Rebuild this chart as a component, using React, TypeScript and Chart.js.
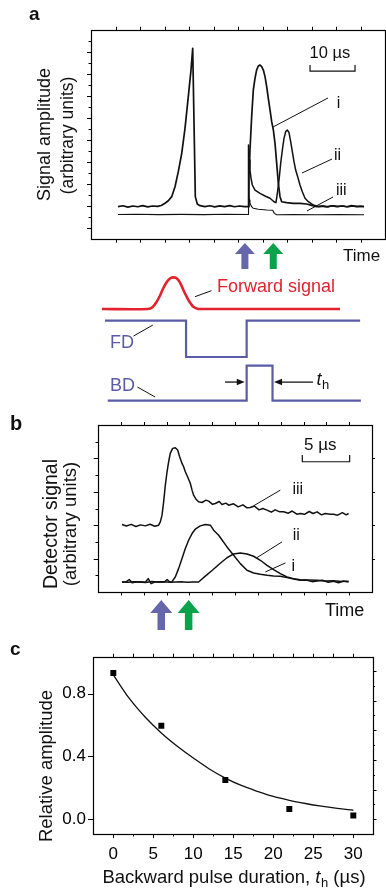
import React, { useEffect, useRef } from "react";
import { Chart, registerables } from "chart.js";

Chart.register(...registerables);

const FONT = '"Liberation Sans", Arial, Helvetica, sans-serif';
const INK = "#111";
const BLUE = "#5b5ca8";
const ARROW_BLUE = "#6566ac";
const GREEN = "#0aa24a";
const RED = "#e3222f";

// ---------------- Panel a : signal amplitude (arb.) vs time (µs) ----------------
const A_TIME_MAX = 65.33;
const A_AMP_MAX = 19;
const A_TRACE_I: [number, number][] = [
  [6.0, 2.95], [7.1, 3.02], [8.2, 2.9], [9.3, 3.0], [10.4, 2.93], [11.5, 3.03], [12.6, 2.92], [13.7, 3.0],
  [14.8, 2.96], [15.6, 3.05], [16.44, 3.25], [17.18, 3.48], [17.93, 3.85], [18.67, 4.75], [19.4, 6.12],
  [20.16, 7.79], [20.89, 10.06], [21.62, 12.94], [22.22, 15.36], [22.6, 17.34], [22.96, 9.0], [23.18, 3.85],
  [23.62, 3.18], [24.22, 3.03], [25.3, 2.95], [26.4, 3.02], [27.5, 2.92], [28.6, 3.01], [29.7, 2.94],
  [30.8, 3.04], [31.9, 2.93], [33.0, 3.0], [34.1, 2.95], [34.96, 2.94], [35.1, 5.66], [35.33, 8.09],
  [35.7, 11.12], [36.07, 13.55], [36.44, 14.6], [36.8, 15.36], [37.18, 15.73], [37.56, 15.82], [37.93, 15.67],
  [38.3, 15.36], [38.67, 14.76], [39.04, 13.85], [39.4, 12.79], [39.78, 11.73], [40.15, 10.67], [40.52, 9.91],
  [40.89, 8.7], [41.26, 6.88], [41.63, 5.06], [42.0, 3.85], [42.37, 3.39], [43.48, 3.3], [44.96, 3.24],
  [46.44, 3.24], [47.93, 3.18], [49.04, 3.06], [50.15, 2.94], [51.3, 2.99], [52.4, 2.92], [53.5, 3.02],
  [54.6, 2.94], [55.7, 3.0], [56.8, 2.93], [57.9, 3.03], [59.0, 2.95], [60.1, 2.98], [60.67, 2.94],
];
const A_TRACE_II: [number, number][] = [
  [34.96, 2.94], [35.0, 8.55], [35.18, 7.18], [35.33, 6.27], [35.56, 5.52], [35.85, 4.91], [36.44, 4.45],
  [37.56, 4.15], [38.67, 3.91], [39.78, 3.7], [40.67, 3.39], [41.1, 3.3], [41.41, 4.15], [41.78, 5.36],
  [42.15, 6.88], [42.52, 8.09], [42.89, 9.15], [43.26, 9.76], [43.63, 9.91], [44.0, 9.67], [44.37, 8.85],
  [44.74, 7.94], [45.11, 7.03], [45.48, 6.27], [45.93, 5.66], [46.44, 4.91], [46.96, 4.3], [47.56, 3.7],
  [48.3, 3.39], [49.41, 3.09], [50.52, 2.94], [51.6, 3.0], [52.7, 2.93], [53.8, 3.02], [54.9, 2.95],
  [56.0, 3.01], [57.1, 2.92], [58.2, 3.0], [59.3, 2.96], [60.67, 2.95],
];
const A_TRACE_III: [number, number][] = [
  [6.0, 2.23], [10, 2.25], [15, 2.22], [20, 2.24], [25, 2.22], [30, 2.25], [34.96, 2.23], [35.0, 3.85],
  [35.18, 3.55], [35.33, 3.24], [35.7, 2.94], [36.07, 2.79], [37.18, 2.7], [39.04, 2.64], [40.37, 2.61],
  [40.74, 2.33], [41.26, 2.2], [45, 2.22], [50, 2.2], [55, 2.22], [60.67, 2.21],
];
const A_LABELS = ["i", "ii", "iii"];
const A_LABEL_AT: [number, number][] = [[55.0, 12.27], [54.8, 7.55], [55.6, 4.41]];
const A_LEADERS: [number, number, number, number][] = [
  [40.44, 10.18, 52.67, 12.82], [46.89, 6.0, 53.56, 7.27], [48.0, 2.55, 53.78, 3.82],
];
const A_ARROWS_T = [34.2, 40.5];
const A_BAR = { t0: 48.67, len: 10, v: 15.27, tick: 0.55, label: "10 µs", labelT: 53.1, labelV: 16.9 };

// ---------------- Schematic (arbitrary time / level units 0–100) ----------------
const SCH_FORWARD: [number, number][] = [
  [26.4, 74], [38.3, 74], [39.5, 75.2], [40.6, 78.9], [41.5, 83.2], [42.3, 87.8], [43.0, 91.2], [43.6, 93.3],
  [44.3, 94.8], [44.9, 95.1], [45.6, 94.8], [46.2, 93.3], [46.9, 90.2], [47.5, 86.7], [48.2, 83.0],
  [48.8, 80.0], [49.5, 77.3], [50.1, 75.5], [51.0, 74.4], [51.8, 74], [88.1, 74],
];
const SCH_FD: [number, number][] = [[27.2, 66.2], [48.2, 42], [63.9, 66.2], [93.3, 66.2]];
const SCH_BD: [number, number][] = [[27.9, 12.9], [63.9, 36.2], [70.6, 12.9], [93.5, 12.9]];

// ---------------- Panel b : detector signal vs time (µs) ----------------
const B_TIME_MAX = 28.93;
const B_AMP_MAX = 10;
const B_TRACE_III: [number, number][] = [
  [2.53, 4.04], [3.0, 3.95], [3.5, 4.05], [4.0, 3.92], [4.5, 4.02], [5.0, 3.96], [5.5, 4.06], [6.0, 3.94],
  [6.4, 4.0], [6.58, 4.2], [6.76, 4.6], [6.93, 5.4], [7.11, 6.4], [7.29, 7.2], [7.46, 7.8], [7.63, 8.3],
  [7.88, 8.6], [8.16, 8.64], [8.41, 8.5], [8.62, 8.1], [8.87, 7.7], [9.04, 7.5], [9.22, 7.2], [9.46, 6.9],
  [9.75, 6.5], [9.93, 6.1], [10.09, 5.8], [10.35, 5.56], [10.62, 5.4], [10.98, 5.36], [11.4, 5.5],
  [11.68, 5.44], [12.1, 5.25], [12.39, 5.3], [12.8, 5.42], [13.09, 5.24], [13.5, 5.32], [13.79, 5.2],
  [14.32, 5.28], [14.8, 5.1], [15.3, 5.22], [15.7, 5.05], [16.08, 5.06], [16.5, 5.15], [17.0, 4.92],
  [17.4, 5.0], [17.85, 4.9], [18.3, 4.78], [18.7, 4.92], [19.2, 4.8], [19.6, 4.8], [20.1, 4.72],
  [20.5, 4.85], [21.0, 4.66], [21.36, 4.7], [21.8, 4.65], [22.3, 4.82], [22.7, 4.7], [23.13, 4.8],
  [23.6, 4.62], [24.0, 4.7], [24.5, 4.66], [24.88, 4.66], [25.3, 4.6], [25.8, 4.75], [26.2, 4.62], [26.46, 4.7],
];
const B_TRACE_I: [number, number][] = [
  [2.53, 0.6], [3.0, 0.62], [3.3, 0.75], [3.6, 0.55], [4.0, 0.6], [4.5, 0.62], [5.0, 0.58], [5.3, 0.8],
  [5.6, 0.5], [6.0, 0.6], [6.5, 0.62], [7.0, 0.6], [7.3, 0.75], [7.6, 0.58], [7.81, 0.62], [8.16, 0.9],
  [8.51, 1.4], [8.87, 2.0], [9.22, 2.6], [9.57, 3.1], [9.93, 3.5], [10.27, 3.76], [10.8, 3.96], [11.33, 4.04],
  [11.86, 4.0], [12.21, 3.7], [12.74, 3.4], [13.62, 2.7], [14.32, 2.2], [15.03, 1.7], [15.73, 1.3],
  [16.43, 1.14], [17.14, 1.06], [17.85, 1.0], [18.54, 0.96], [19.25, 0.94], [19.96, 0.86], [20.65, 0.78],
  [21.36, 0.7], [22.0, 0.72], [22.6, 0.62], [23.13, 0.66], [23.7, 0.7], [24.3, 0.58], [24.88, 0.64],
  [25.4, 0.55], [25.9, 0.66], [26.46, 0.6],
];
const B_TRACE_II: [number, number][] = [
  [2.53, 0.6], [3.2, 0.58], [3.8, 0.62], [4.4, 0.6], [5.0, 0.57], [5.7, 0.63], [6.3, 0.6], [7.0, 0.62],
  [7.6, 0.58], [8.2, 0.6], [8.8, 0.62], [9.4, 0.59], [10.0, 0.6], [10.62, 0.6], [11.33, 0.95], [12.07, 1.3],
  [12.91, 1.72], [13.62, 2.05], [14.32, 2.28], [15.03, 2.33], [15.73, 2.28], [16.43, 2.14], [17.14, 1.9],
  [17.85, 1.6], [18.54, 1.34], [19.25, 1.1], [19.96, 0.9], [20.65, 0.8], [21.36, 0.74], [22.2, 0.72],
  [23.13, 0.7], [24.0, 0.66], [24.88, 0.68], [25.7, 0.63], [26.46, 0.64],
];
const B_LABELS = ["iii", "ii", "i"];
const B_LABEL_AT: [number, number][] = [[21.1, 6.16], [20.94, 3.39], [20.62, 1.54]];
const B_LEADERS: [number, number, number, number][] = [
  [16.43, 5.16, 19.25, 6.1], [16.79, 2.06, 19.43, 3.0], [17.67, 1.2, 19.79, 1.74],
];
const B_ARROWS_T = [6.68, 9.57];
const B_BAR = { t0: 21.57, len: 5, v: 7.8, tick: 0.4, label: "5 µs", labelT: 23.47, labelV: 8.8 };

// ---------------- Panel c : relative amplitude vs backward pulse duration ----------------
const C_DURATION = [0, 6, 14, 22, 30];
const C_AMPLITUDE = [0.932, 0.596, 0.25, 0.065, 0.023];
const C_FIT_DURATION = [0, 2, 4, 6, 8, 10, 12, 14, 16, 18, 20, 22, 24, 26, 28, 30];
const C_FIT_AMPLITUDE = [0.92, 0.77, 0.65, 0.55, 0.465, 0.39, 0.32, 0.262, 0.215, 0.178, 0.145, 0.12, 0.1, 0.083, 0.069, 0.057];
const C_X_TICKS = [0, 5, 10, 15, 20, 25, 30];
const C_X_MINOR = [0, 2.5, 5, 7.5, 10, 12.5, 15, 17.5, 20, 22.5, 25, 27.5, 30];
const C_Y_TICKS = [0, 0.4, 0.8];
const C_Y2_TICKS = [0, 0.1, 0.2, 0.3, 0.4, 0.5, 0.6, 0.7, 0.8, 0.9, 1.0];

// ---------------- helpers ----------------
const pts = (arr: [number, number][]) => arr.map(([x, y]) => ({ x, y }));

function lineDs(arr: [number, number][], width: number, color = INK, extra: any = {}) {
  return {
    data: pts(arr),
    borderColor: color,
    backgroundColor: color,
    borderWidth: width,
    pointRadius: 0,
    tension: 0,
    fill: false,
    borderJoinStyle: "round",
    ...extra,
  };
}

type TOpt = { size?: number; weight?: string; style?: string; align?: CanvasTextAlign; base?: CanvasTextBaseline; color?: string };
function text(ctx: CanvasRenderingContext2D, s: string, x: number, y: number, o: TOpt = {}) {
  ctx.save();
  ctx.font = `${o.style ?? "normal"} ${o.weight ?? "normal"} ${o.size ?? 17}px ${FONT}`;
  ctx.fillStyle = o.color ?? INK;
  ctx.textAlign = o.align ?? "left";
  ctx.textBaseline = o.base ?? "middle";
  ctx.fillText(s, x, y);
  ctx.restore();
}
function vtext(ctx: CanvasRenderingContext2D, s: string, cx: number, cy: number, size: number) {
  ctx.save();
  ctx.translate(cx, cy);
  ctx.rotate(-Math.PI / 2);
  text(ctx, s, 0, 0, { size, align: "center", base: "middle" });
  ctx.restore();
}
function seg(ctx: CanvasRenderingContext2D, x1: number, y1: number, x2: number, y2: number, w = 1, color = INK) {
  ctx.save();
  ctx.strokeStyle = color;
  ctx.lineWidth = w;
  ctx.beginPath();
  ctx.moveTo(x1, y1);
  ctx.lineTo(x2, y2);
  ctx.stroke();
  ctx.restore();
}
function upArrow(ctx: CanvasRenderingContext2D, cx: number, tip: number, base: number, bottom: number, headW: number, shaftW: number, color: string) {
  ctx.save();
  ctx.fillStyle = color;
  ctx.beginPath();
  ctx.moveTo(cx, tip);
  ctx.lineTo(cx + headW / 2, base);
  ctx.lineTo(cx + shaftW / 2, base);
  ctx.lineTo(cx + shaftW / 2, bottom);
  ctx.lineTo(cx - shaftW / 2, bottom);
  ctx.lineTo(cx - shaftW / 2, base);
  ctx.lineTo(cx - headW / 2, base);
  ctx.closePath();
  ctx.fill();
  ctx.restore();
}
function hArrow(ctx: CanvasRenderingContext2D, x1: number, x2: number, y: number) {
  const dir = Math.sign(x2 - x1);
  seg(ctx, x1, y, x2 - dir * 5, y, 1.3);
  ctx.save();
  ctx.fillStyle = INK;
  ctx.beginPath();
  ctx.moveTo(x2, y);
  ctx.lineTo(x2 - dir * 8, y - 3.2);
  ctx.lineTo(x2 - dir * 8, y + 3.2);
  ctx.closePath();
  ctx.fill();
  ctx.restore();
}
function frame(ctx: CanvasRenderingContext2D, chart: any) {
  const ca = chart.chartArea;
  ctx.save();
  ctx.strokeStyle = "#000";
  ctx.lineWidth = 1.2;
  ctx.strokeRect(Math.round(ca.left) + 0.5, Math.round(ca.top) + 0.5, Math.round(ca.right - ca.left), Math.round(ca.bottom - ca.top));
  ctx.restore();
}
function ticks(ctx: CanvasRenderingContext2D, chart: any, scaleId: string, side: string, values: number[], len: (v: number) => number) {
  const s = chart.scales[scaleId];
  const ca = chart.chartArea;
  ctx.save();
  ctx.strokeStyle = "#000";
  ctx.lineWidth = 1;
  ctx.beginPath();
  for (const v of values) {
    const p = Math.round(s.getPixelForValue(v)) + 0.5;
    const L = len(v);
    if (side === "top") { ctx.moveTo(p, Math.round(ca.top)); ctx.lineTo(p, Math.round(ca.top) - L); }
    if (side === "bottom") { ctx.moveTo(p, Math.round(ca.bottom)); ctx.lineTo(p, Math.round(ca.bottom) + L); }
    if (side === "left") { ctx.moveTo(Math.round(ca.left), p); ctx.lineTo(Math.round(ca.left) - L, p); }
    if (side === "right") { ctx.moveTo(Math.round(ca.right), p); ctx.lineTo(Math.round(ca.right) + L, p); }
  }
  ctx.stroke();
  ctx.restore();
}
function tSubH(ctx: CanvasRenderingContext2D, x: number, baseline: number, size: number) {
  ctx.save();
  ctx.fillStyle = INK;
  ctx.textBaseline = "alphabetic";
  ctx.textAlign = "left";
  ctx.font = `italic ${size}px ${FONT}`;
  ctx.fillText("t", x, baseline);
  const w1 = ctx.measureText("t").width;
  ctx.font = `${Math.round(size * 0.72)}px ${FONT}`;
  ctx.fillText("h", x + w1 + 0.5, baseline + size * 0.22);
  const w2 = ctx.measureText("h").width;
  ctx.restore();
  return w1 + 0.5 + w2;
}
function measure(ctx: CanvasRenderingContext2D, s: string, font: string) {
  ctx.save();
  ctx.font = font;
  const w = ctx.measureText(s).width;
  ctx.restore();
  return w;
}

function hiddenScales(xmax: number, ymax: number, xmin = 0, ymin = 0) {
  return {
    x: { type: "linear", display: false, min: xmin, max: xmax },
    y: { type: "linear", display: false, min: ymin, max: ymax },
  };
}
const common = {
  responsive: false,
  animation: false,
  devicePixelRatio: 1,
  events: [],
  plugins: { legend: { display: false }, tooltip: { enabled: false } },
};

// ---------------- chart builders ----------------
function makeA() {
  const A_X_TICKS = Array.from({ length: 11 }, (_, k) => ((k + 1) * A_TIME_MAX) / 12);
  const A_Y_TICKS = Array.from({ length: A_AMP_MAX - 1 }, (_, k) => k + 1);
  return {
    type: "line",
    data: {
      datasets: [lineDs(A_TRACE_III, 1.1), lineDs(A_TRACE_II, 1.5), lineDs(A_TRACE_I, 1.7)],
    },
    options: {
      ...common,
      layout: { padding: { left: 91, right: 1, top: 30, bottom: 31 } },
      scales: hiddenScales(A_TIME_MAX, A_AMP_MAX),
    },
    plugins: [
      {
        id: "decorA",
        afterDraw(chart: any) {
          const { ctx, chartArea: ca } = chart;
          const X = (v: number) => chart.scales.x.getPixelForValue(v);
          const Y = (v: number) => chart.scales.y.getPixelForValue(v);
          frame(ctx, chart);
          ticks(ctx, chart, "x", "top", A_X_TICKS, () => 3.3);
          ticks(ctx, chart, "x", "bottom", A_X_TICKS, () => 3.7);
          ticks(ctx, chart, "y", "left", A_Y_TICKS, (v) => (v % 2 === 1 ? 4 : 2.5));
          text(ctx, "a", 29, 20, { size: 19, weight: "bold", base: "alphabetic" });
          const mid = (ca.top + ca.bottom) / 2;
          vtext(ctx, "Signal amplitude", 45, mid, 18);
          vtext(ctx, "(arbitrary units)", 68, mid + 1, 17.5);
          text(ctx, "Time", 343, 256, { size: 17 });
          upArrow(ctx, X(A_ARROWS_T[0]), 243, 254, 269, 20, 7, ARROW_BLUE);
          upArrow(ctx, X(A_ARROWS_T[1]), 243, 254, 269, 20, 7, GREEN);
          // scale bar
          const bx0 = X(A_BAR.t0), bx1 = X(A_BAR.t0 + A_BAR.len), by = Y(A_BAR.v), byt = Y(A_BAR.v + A_BAR.tick);
          ctx.save();
          ctx.strokeStyle = INK; ctx.lineWidth = 1.2; ctx.beginPath();
          ctx.moveTo(bx0, byt); ctx.lineTo(bx0, by); ctx.lineTo(bx1, by); ctx.lineTo(bx1, byt); ctx.stroke();
          ctx.restore();
          text(ctx, A_BAR.label, X(A_BAR.labelT), Y(A_BAR.labelV), { size: 16.5, align: "center" });
          A_LEADERS.forEach(([t1, v1, t2, v2]) => seg(ctx, X(t1), Y(v1), X(t2), Y(v2), 1));
          A_LABELS.forEach((s, i) => text(ctx, s, X(A_LABEL_AT[i][0]), Y(A_LABEL_AT[i][1]), { size: 16, align: "center" }));
        },
      },
    ],
  };
}

function makeSchematic() {
  return {
    type: "line",
    data: {
      datasets: [
        lineDs(SCH_FORWARD, 2.6, RED, { tension: 0.3, borderCapStyle: "butt" }),
        lineDs(SCH_FD, 2.2, BLUE, { stepped: "before", borderJoinStyle: "miter", borderCapStyle: "butt" }),
        lineDs(SCH_BD, 2.2, BLUE, { stepped: "before", borderJoinStyle: "miter", borderCapStyle: "butt" }),
      ],
    },
    options: {
      ...common,
      layout: { padding: 0 },
      scales: hiddenScales(100, 100),
    },
    plugins: [
      {
        id: "decorS",
        afterDraw(chart: any) {
          const { ctx } = chart;
          const X = (v: number) => chart.scales.x.getPixelForValue(v);
          const Y = (v: number) => chart.scales.y.getPixelForValue(v);
          text(ctx, "Forward signal", X(56.2), Y(88.7), { size: 18, color: RED });
          seg(ctx, X(50.5), Y(82.2), X(54.8), Y(86.2), 1);
          text(ctx, "FD", X(28.5), Y(51.4), { size: 18, color: BLUE });
          seg(ctx, X(34.6), Y(56), X(39.6), Y(63.3), 1);
          text(ctx, "BD", X(28.5), Y(22.5), { size: 18, color: BLUE });
          seg(ctx, X(35.6), Y(22), X(40.2), Y(15.3), 1);
          hArrow(ctx, X(58.3), X(63.4), Y(25.3));
          hArrow(ctx, X(81.1), X(71.0), Y(25.3));
          tSubH(ctx, X(82.0), Y(23.3), 18);
        },
      },
    ],
  };
}

function makeB() {
  const B_X_TICKS = Array.from({ length: 11 }, (_, k) => ((k + 1) * B_TIME_MAX) / 12);
  const B_Y_TICKS = Array.from({ length: B_AMP_MAX - 1 }, (_, k) => k + 1);
  return {
    type: "line",
    data: {
      datasets: [lineDs(B_TRACE_II, 1.5), lineDs(B_TRACE_I, 1.5), lineDs(B_TRACE_III, 1.5)],
    },
    options: {
      ...common,
      layout: { padding: { left: 98, right: 14, top: 20, bottom: 53 } },
      scales: hiddenScales(B_TIME_MAX, B_AMP_MAX),
    },
    plugins: [
      {
        id: "decorB",
        afterDraw(chart: any) {
          const { ctx } = chart;
          const X = (v: number) => chart.scales.x.getPixelForValue(v);
          const Y = (v: number) => chart.scales.y.getPixelForValue(v);
          frame(ctx, chart);
          ticks(ctx, chart, "x", "top", B_X_TICKS, () => 3);
          ticks(ctx, chart, "x", "bottom", B_X_TICKS, () => 3.5);
          ticks(ctx, chart, "y", "left", B_Y_TICKS, (v) => (v % 2 === 0 ? 4.3 : 2.5));
          ticks(ctx, chart, "y", "right", B_Y_TICKS.filter((v) => v % 2 === 0), () => 3);
          text(ctx, "b", 10, 25, { size: 20, weight: "bold", base: "alphabetic" });
          vtext(ctx, "Detector signal", 52, 119, 19.5);
          vtext(ctx, "(arbitrary units)", 71, 119, 18.5);
          text(ctx, "Time", 325, 206, { size: 18 });
          upArrow(ctx, X(B_ARROWS_T[0]), 195, 208, 225, 22, 7.5, ARROW_BLUE);
          upArrow(ctx, X(B_ARROWS_T[1]), 195, 208, 225, 22, 7.5, GREEN);
          const bx0 = X(B_BAR.t0), bx1 = X(B_BAR.t0 + B_BAR.len), by = Y(B_BAR.v), byt = Y(B_BAR.v + B_BAR.tick);
          ctx.save();
          ctx.strokeStyle = INK; ctx.lineWidth = 1.2; ctx.beginPath();
          ctx.moveTo(bx0, byt); ctx.lineTo(bx0, by); ctx.lineTo(bx1, by); ctx.lineTo(bx1, byt); ctx.stroke();
          ctx.restore();
          text(ctx, B_BAR.label, X(B_BAR.labelT), Y(B_BAR.labelV), { size: 17, align: "center" });
          B_LEADERS.forEach(([t1, v1, t2, v2]) => seg(ctx, X(t1), Y(v1), X(t2), Y(v2), 1));
          B_LABELS.forEach((s, i) => text(ctx, s, X(B_LABEL_AT[i][0]), Y(B_LABEL_AT[i][1]), { size: 16, align: "center" }));
        },
      },
    ],
  };
}

function makeC() {
  const tickFont = { family: FONT, size: 17 };
  return {
    type: "line",
    data: {
      datasets: [
        {
          data: C_DURATION.map((x, i) => ({ x, y: C_AMPLITUDE[i] })),
          showLine: false,
          pointStyle: "rect",
          pointRadius: 4.2,
          pointBorderWidth: 0,
          pointBackgroundColor: "#000",
          borderColor: "#000",
        },
        {
          data: C_FIT_DURATION.map((x, i) => ({ x, y: C_FIT_AMPLITUDE[i] })),
          borderColor: INK,
          borderWidth: 1.3,
          pointRadius: 0,
          tension: 0.35,
          fill: false,
        },
      ],
    },
    options: {
      ...common,
      layout: { padding: { top: 15, left: 0, right: 0, bottom: 0 } },
      scales: {
        x: {
          type: "linear",
          position: "bottom",
          min: -2.54,
          max: 32.46,
          afterBuildTicks: (axis: any) => { axis.ticks = C_X_TICKS.map((value) => ({ value })); },
          afterFit: (s: any) => { s.height = 58; },
          ticks: { font: tickFont, color: "#000", padding: 10, autoSkip: false, maxRotation: 0, callback: (v: any) => String(v) },
          grid: { display: false, drawTicks: false },
          border: { display: false },
        },
        y: {
          type: "linear",
          position: "left",
          min: -0.0945,
          max: 1.033,
          afterBuildTicks: (axis: any) => { axis.ticks = C_Y_TICKS.map((value) => ({ value })); },
          afterFit: (s: any) => { s.width = 93; },
          ticks: { font: tickFont, color: "#000", padding: 7, callback: (v: any) => Number(v).toFixed(1) },
          grid: { display: false, drawTicks: false },
          border: { display: false },
        },
        y2: {
          type: "linear",
          position: "right",
          min: -0.1,
          max: 1.0933,
          afterFit: (s: any) => { s.width = 13; },
          ticks: { display: false },
          grid: { display: false, drawTicks: false },
          border: { display: false },
        },
      },
    },
    plugins: [
      {
        id: "decorC",
        afterDraw(chart: any) {
          const { ctx } = chart;
          frame(ctx, chart);
          ticks(ctx, chart, "x", "top", C_X_MINOR, () => 3.3);
          ticks(ctx, chart, "x", "bottom", C_X_MINOR, (v) => (v % 5 === 0 ? 4 : 2.5));
          ticks(ctx, chart, "y", "left", C_Y_TICKS, () => 5);
          ticks(ctx, chart, "y2", "right", C_Y2_TICKS, (v) => (Math.round(v * 10) % 2 === 0 ? 3.5 : 2));
          text(ctx, "c", 10, 15, { size: 19, weight: "bold", base: "alphabetic" });
          vtext(ctx, "Relative amplitude", 47, 126, 18.5);
          // x title with italic t and subscript h
          const size = 18.5;
          const f = `normal normal ${size}px ${FONT}`;
          const p1 = "Backward pulse duration, ";
          const p3 = " (µs)";
          const w1 = measure(ctx, p1, f);
          const wt = measure(ctx, "t", `italic ${size}px ${FONT}`) + 0.5 + measure(ctx, "h", `${Math.round(size * 0.72)}px ${FONT}`);
          const w3 = measure(ctx, p3, f);
          const x0 = 234 - (w1 + wt + w3) / 2;
          const base = 243;
          text(ctx, p1, x0, base, { size, base: "alphabetic" });
          const wsub = tSubH(ctx, x0 + w1, base, size);
          text(ctx, p3, x0 + w1 + wsub, base, { size, base: "alphabetic" });
        },
      },
    ],
  };
}

function ChartBox({ top, height, make }: { top: number; height: number; make: () => any }) {
  const ref = useRef<HTMLCanvasElement>(null);
  useEffect(() => {
    if (!ref.current) return;
    const chart = new Chart(ref.current, make());
    return () => chart.destroy();
  }, [make]);
  return (
    <canvas
      ref={ref}
      width={386}
      height={height}
      style={{ position: "absolute", left: 0, top, width: 386, height, display: "block" }}
    />
  );
}

export default function App() {
  return (
    <div style={{ position: "absolute", left: 0, top: 0, width: 386, height: 892, background: "#fff", overflow: "hidden" }}>
      <ChartBox top={0} height={270} make={makeA} />
      <ChartBox top={270} height={150} make={makeSchematic} />
      <ChartBox top={405} height={240} make={makeB} />
      <ChartBox top={640} height={252} make={makeC} />
    </div>
  );
}
